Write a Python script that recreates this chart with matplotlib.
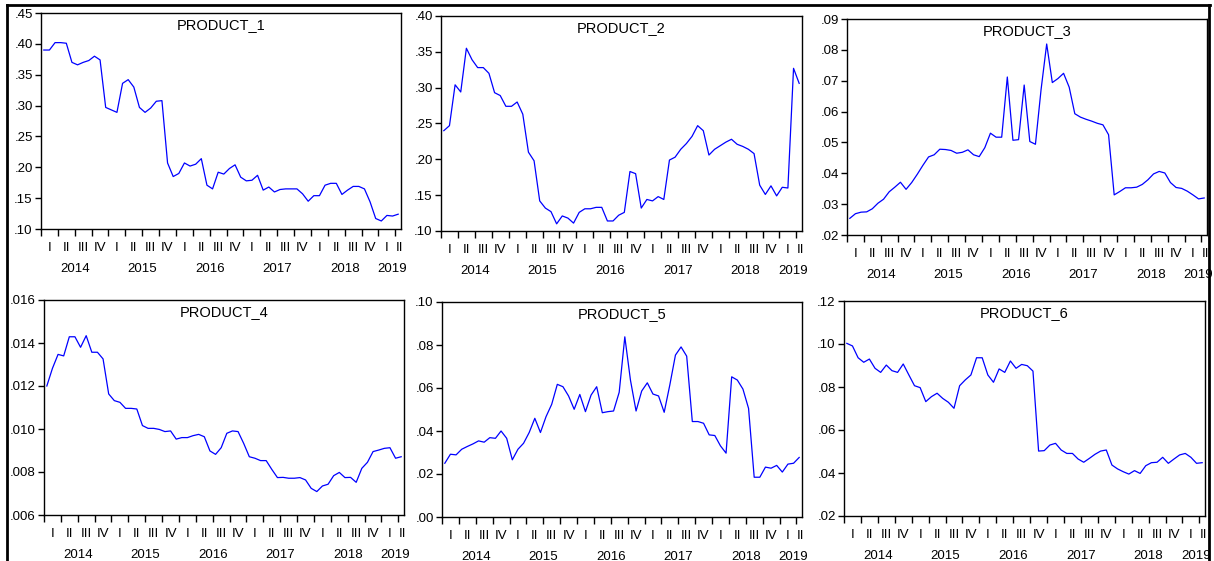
import matplotlib
matplotlib.use("Agg")
import matplotlib.pyplot as plt
from matplotlib.lines import Line2D
from matplotlib.ticker import FuncFormatter

plt.rcParams["font.family"] = ["Liberation Sans", "DejaVu Sans"]

# monthly shares, 2014M01 .. 2019M04
years = [2014, 2015, 2016, 2017, 2018, 2019]
quarters = ["I", "II", "III", "IV"]

product_1 = [.390, .390, .402, .402, .401, .370, .366, .370, .373, .380, .374, .297,
             .293, .289, .336, .342, .330, .297, .289, .296, .307, .308, .207, .185,
             .190, .207, .202, .205, .214, .171, .165, .192, .189, .198, .204, .184,
             .178, .179, .187, .163, .168, .160, .164, .165, .165, .165, .157, .145,
             .154, .154, .171, .174, .174, .156, .163, .169, .169, .165, .144, .117,
             .113, .122, .121, .124]
product_2 = [.240, .247, .304, .294, .355, .339, .328, .328, .320, .293, .289, .274,
             .274, .280, .263, .210, .198, .142, .132, .127, .110, .121, .118, .111,
             .126, .131, .131, .133, .133, .114, .114, .122, .126, .183, .180, .132,
             .144, .142, .148, .144, .199, .203, .214, .222, .232, .247, .240, .206,
             .214, .219, .224, .228, .221, .218, .214, .208, .164, .151, .163, .149,
             .161, .160, .327, .306]
product_3 = [.0254, .0269, .0274, .0275, .0285, .0303, .0316, .0340, .0355, .0371, .0348, .0370,
             .0397, .0426, .0453, .0460, .0478, .0477, .0474, .0465, .0468, .0476, .0460, .0454,
             .0483, .0530, .0517, .0517, .0712, .0507, .0509, .0686, .0503, .0494, .0671, .0819,
             .0694, .0707, .0724, .0679, .0593, .0582, .0575, .0569, .0562, .0557, .0525, .0330,
             .0341, .0353, .0353, .0355, .0364, .0379, .0398, .0406, .0401, .0370, .0354, .0351,
             .0342, .0330, .0317, .0320]
product_4 = [.01200, .01282, .01347, .01340, .01429, .01429, .01380, .01434, .01357, .01357, .01326, .01163,
             .01132, .01124, .01096, .01096, .01093, .01016, .01003, .01003, .00998, .00988, .00991, .00953,
             .00960, .00960, .00969, .00975, .00964, .00898, .00882, .00913, .00980, .00991, .00988, .00933,
             .00871, .00864, .00853, .00853, .00812, .00774, .00775, .00771, .00771, .00774, .00763, .00724,
             .00709, .00735, .00743, .00783, .00798, .00774, .00775, .00752, .00817, .00845, .00895, .00902,
             .00910, .00913, .00864, .00871]
product_5 = [.0250, .0292, .0289, .0315, .0328, .0340, .0354, .0348, .0369, .0366, .0400, .0366,
             .0266, .0315, .0343, .0393, .0459, .0393, .0467, .0524, .0617, .0606, .0563, .0501,
             .0570, .0490, .0567, .0606, .0485, .0490, .0493, .0580, .0838, .0637, .0493, .0586,
             .0624, .0572, .0563, .0487, .0614, .0753, .0791, .0748, .0444, .0444, .0436, .0382,
             .0379, .0331, .0297, .0652, .0637, .0595, .0505, .0185, .0185, .0232, .0227, .0240,
             .0209, .0246, .0250, .0277]
product_6 = [.1003, .0991, .0936, .0915, .0930, .0887, .0868, .0902, .0876, .0868, .0907, .0856,
             .0806, .0797, .0732, .0755, .0771, .0747, .0729, .0701, .0806, .0833, .0856, .0936,
             .0936, .0856, .0822, .0884, .0868, .0921, .0887, .0905, .0899, .0874, .0502, .0504,
             .0530, .0538, .0507, .0491, .0491, .0465, .0450, .0468, .0487, .0502, .0507, .0437,
             .0419, .0406, .0395, .0411, .0398, .0434, .0448, .0450, .0473, .0445, .0465, .0484,
             .0491, .0473, .0445, .0448]

names = ["PRODUCT_1", "PRODUCT_2", "PRODUCT_3", "PRODUCT_4", "PRODUCT_5", "PRODUCT_6"]
series = [product_1, product_2, product_3, product_4, product_5, product_6]
y_ranges = [(.10, .45, .05, 2), (.10, .40, .05, 2), (.02, .09, .01, 2),
            (.006, .016, .002, 3), (.00, .10, .02, 2), (.02, .12, .02, 2)]

# panel boxes in pixels: left, top, right, bottom
W, H = 1214, 561
boxes = [(41, 13, 401, 229), (441, 16, 802, 231), (847, 19, 1207, 235),
         (44, 300, 404, 515), (442, 302, 802, 517), (844, 301, 1205, 516)]

fig = plt.figure(figsize=(W / 100, H / 100), dpi=100)
fig.patch.set_facecolor("white")

n = len(product_1)
x = list(range(n))
x_lo, x_hi = -0.5, n - 0.5

for name, vals, (lo, hi, step, dec), (l, t, r, b) in zip(names, series, y_ranges, boxes):
    ax = fig.add_axes([l / W, 1 - b / H, (r - l) / W, (b - t) / H])
    ax.plot(x, vals, color="#0000FF", lw=0.9)
    ax.set_xlim(x_lo, x_hi)
    ax.set_ylim(lo, hi)
    nt = int(round((hi - lo) / step))
    ax.set_yticks([lo + k * step for k in range(nt + 1)])
    ax.yaxis.set_major_formatter(FuncFormatter(lambda v, p, d=dec: f"{v:.{d}f}".lstrip("0")))
    ax.tick_params(axis="y", direction="out", length=4, width=1, pad=2,
                   labelsize=9.5, colors="black")
    # quarter boundary ticks
    ax.set_xticks([x_lo + 3 * k for k in range(int(n / 3) + 1)])
    ax.set_xticklabels([])
    ax.tick_params(axis="x", direction="out", length=5, width=1)
    for s in ax.spines.values():
        s.set_linewidth(1.0)
        s.set_color("black")
    ax.text(0.5, 1 - 12 / (b - t), name, transform=ax.transAxes,
            ha="center", va="center", fontsize=10.5)

    # quarter and year labels under the axis
    trans = ax.get_xaxis_transform()
    q_off = -19 / (b - t)
    y_off = -40 / (b - t)
    for k in range(int(n / 3) + 1):
        cx = min(1 + 3 * k, x_hi - 0.2)
        ax.text(cx, q_off, quarters[k % 4], transform=trans, ha="center",
                va="center", fontsize=9.5, clip_on=False)
    for j, yr in enumerate(years):
        cx = min(5.5 + 12 * j, x_hi - 1.5)
        ax.text(cx, y_off, str(yr), transform=trans, ha="center",
                va="center", fontsize=9.5, clip_on=False)

# outer frame
for xs, ys in [((7, 1210), (5, 5)), ((7, 7), (5, 561)), ((1209, 1209), (5, 561))]:
    fig.add_artist(Line2D([v / W for v in xs], [1 - v / H for v in ys],
                          transform=fig.transFigure, color="black", lw=2.0))

fig.savefig("out.png", dpi=100)
